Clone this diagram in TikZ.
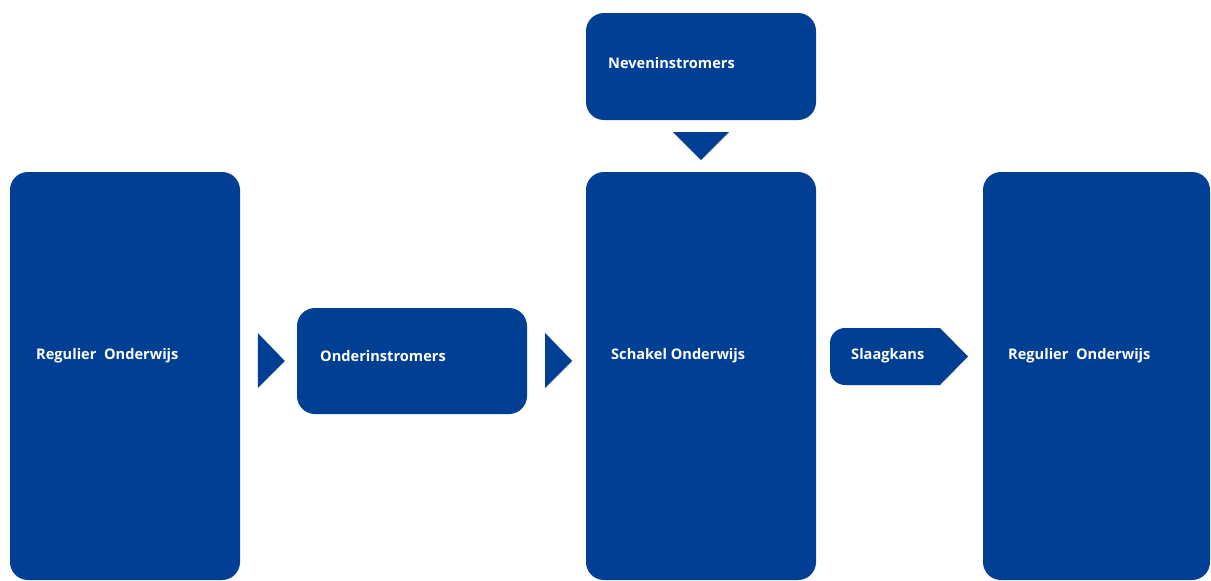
\documentclass[tikz,border=0pt]{standalone}
\usepackage{fontspec}
\setmainfont{Open Sans}
\usetikzlibrary{positioning,calc}
\definecolor{schoolblue}{RGB}{0,63,148}

\begin{document}
\begin{tikzpicture}[x=1pt,y=-1pt]

	\tikzstyle{block}=[rectangle,fill=schoolblue,rounded corners=18pt,
		inner sep=0pt]
	\tikzstyle{caption}=[text=white,anchor=west,inner sep=0pt,
		font=\bfseries\fontsize{14.6}{17}\selectfont]
	\tikzstyle{tip}=[fill=schoolblue]

	\useasboundingbox[fill=white] (0,0) rectangle (1211,581);

	\node[block,minimum width=230pt,minimum height=408pt](regulier) at (125,376){};
	\node[block,minimum width=230pt,minimum height=106pt](onder) at (412,361){};
	\node[block,minimum width=230pt,minimum height=408pt](schakel) at (701,376){};
	\node[block,minimum width=230pt,minimum height=107pt](neven) at (701,66.5){};
	\node[block,minimum width=227pt,minimum height=408pt](regulierterug) at (1096.5,376){};

	% slaagkans pijl
	\coordinate (slaagtip) at (968,356.5);
	\fill[tip] (slaagtip) -- (940,385) [rounded corners=15pt] -- (830,385) -- (830,328) [sharp corners] -- (940,328) -- cycle;

	\node[caption](regulierlabel) at (36,356){Regulier\ \ Onderwijs};
	\node[caption](onderlabel) at (320,356){Onderinstromers};
	\node[caption](schakellabel) at (611,356){Schakel Onderwijs};
	\node[caption](nevenlabel) at (608,63){Neveninstromers};
	\node[caption](slaag) at (851,356){Slaagkans};
	\node[caption](regulierteruglabel) at (1008,356){Regulier\ \ Onderwijs};

	\fill[tip] ($(onder.west)+(-39,-28)$) -- ($(onder.west)+(-39,27)$) -- ($(onder.west)+(-12,0)$) -- cycle;
	\fill[tip] ($(onder.east)+(18,-28)$) -- ($(onder.east)+(18,27)$) -- ($(onder.east)+(45,0)$) -- cycle;
	\fill[tip] ($(neven.south)+(-28,12)$) -- ($(neven.south)+(28,12)$) -- ($(neven.south)+(0,40)$) -- cycle;

\end{tikzpicture}
\end{document}
